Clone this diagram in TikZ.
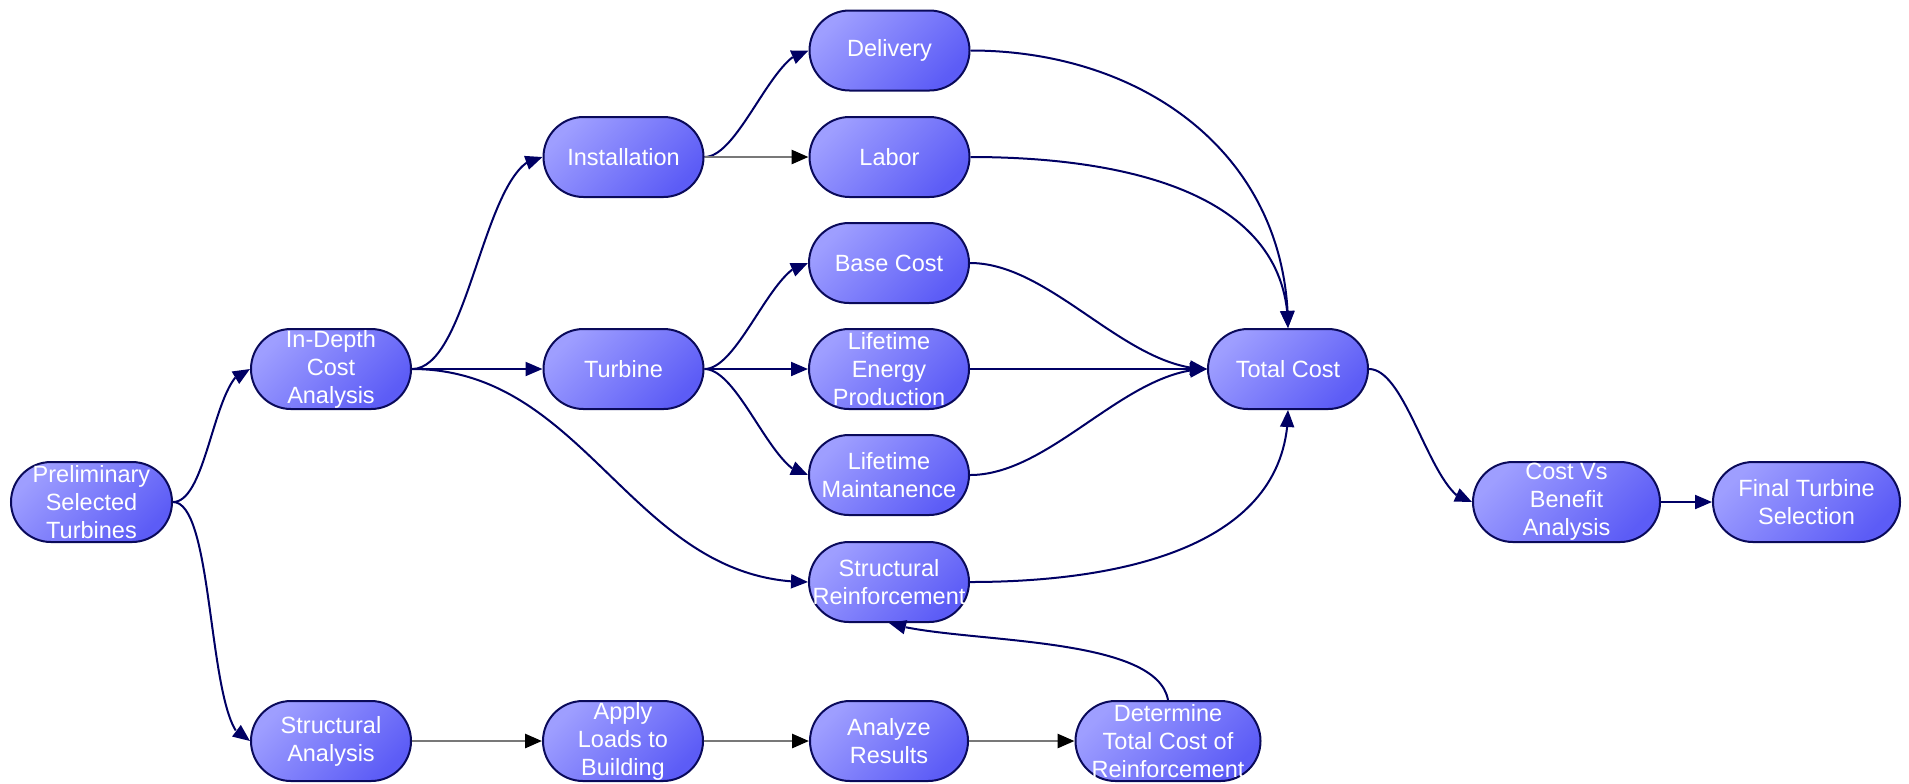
\documentclass[tikz,border=0pt]{standalone}
\usepackage{fontspec}
\setmainfont{Liberation Sans}
\usetikzlibrary{arrows.meta,bending}
\definecolor{navy}{RGB}{0,0,100}
\definecolor{boxborder}{RGB}{10,10,90}
\definecolor{boxlight}{RGB}{158,158,255}
\definecolor{boxdark}{RGB}{92,92,246}
\definecolor{flowgray}{RGB}{120,120,120}
\newcommand\bx[4]{%
  \node[box,minimum width=#4] (#1) at (#2) {};
  \node[txt] (#1t) at (#1.center) {#3};}
\begin{document}
\begin{tikzpicture}[x=0.5pt,y=-0.5pt,
  box/.style={draw=boxborder, line width=1pt, rounded corners=20pt,
    minimum height=40pt, inner sep=0pt,
    top color=boxlight, bottom color=boxdark, shading angle=45},
  txt/.style={align=center, text=white, inner sep=0pt,
    font=\fontsize{11.75}{14}\selectfont},
  edge/.style={draw=navy, line width=1pt,
    -{Triangle[length=8.5pt,width=7pt]}},
  gedge/.style={draw=flowgray, line width=1.4pt,
    -{Triangle[length=8.5pt,width=7pt,color=black]}},
  sc/.style={out=0,in=180,looseness=0.6}
]
\useasboundingbox (0,0) rectangle (1909,783);

\bx{pre}{91.5,502}{Preliminary\\Selected\\Turbines}{80.5pt}
\bx{ida}{331,369}{In-Depth\\Cost\\Analysis}{80pt}
\bx{sa}{331,741}{Structural\\Analysis}{80pt}
\bx{ins}{623.5,157}{Installation}{80pt}
\bx{tur}{623.5,369}{Turbine}{80pt}
\bx{apl}{623,741}{Apply\\Loads to\\Building}{80pt}
\bx{del}{889.5,50.5}{Delivery}{80pt}
\bx{lab}{889.5,157}{Labor}{80pt}
\bx{bas}{889,263}{Base Cost}{80pt}
\bx{lep}{889,369}{Lifetime\\Energy\\Production}{80pt}
\bx{lm}{889,475}{Lifetime\\Maintanence}{80pt}
\bx{sr}{889,582}{Structural\\Reinforcement}{80pt}
\bx{ana}{889,741}{Analyze\\Results}{79pt}
\bx{det}{1168,741}{Determine\\Total Cost of\\Reinforcement}{92.5pt}
\bx{tc}{1288,369}{Total Cost}{80pt}
\bx{cvb}{1566.5,502}{Cost Vs\\Benefit\\Analysis}{93.5pt}
\bx{fts}{1806.5,502}{Final Turbine\\Selection}{93.5pt}

\draw[edge] (pre.east) to[sc] (ida.west);
\draw[edge] (pre.east) to[out=0,in=180,looseness=0.45] (sa.west);
\draw[edge] (ida.east) to[sc] (ins.west);
\draw[edge] (ida.east) -- (tur.west);
\draw[edge] (ida.east) to[out=0,in=180] (sr.west);
\draw[edge] (ins.east) to[sc] (del.west);
\draw[gedge] (ins.east) -- (lab.west);
\draw[edge] (tur.east) to[sc] (bas.west);
\draw[edge] (tur.east) -- (lep.west);
\draw[edge] (tur.east) to[sc] (lm.west);
\draw[edge] (del.east) to[out=0,in=90,looseness=1.05] (tc.north);
\draw[edge] (lab.east) to[out=0,in=90] (tc.north);
\draw[edge] (bas.east) to[out=0,in=180,looseness=0.8] (tc.west);
\draw[edge] (lep.east) -- (tc.west);
\draw[edge] (lm.east) to[out=0,in=180,looseness=0.8] (tc.west);
\draw[edge] (sr.east) to[out=0,in=-90] (tc.south);
\draw[edge] (tc.east) to[sc] (cvb.west);
\draw[edge] (cvb.east) -- (fts.west);
\draw[gedge] (sa.east) -- (apl.west);
\draw[gedge] (apl.east) -- (ana.west);
\draw[gedge] (ana.east) -- (det.west);
\draw[edge] (det.north) to[out=100,in=-18,looseness=0.6] (sr.south);
\end{tikzpicture}
\end{document}
